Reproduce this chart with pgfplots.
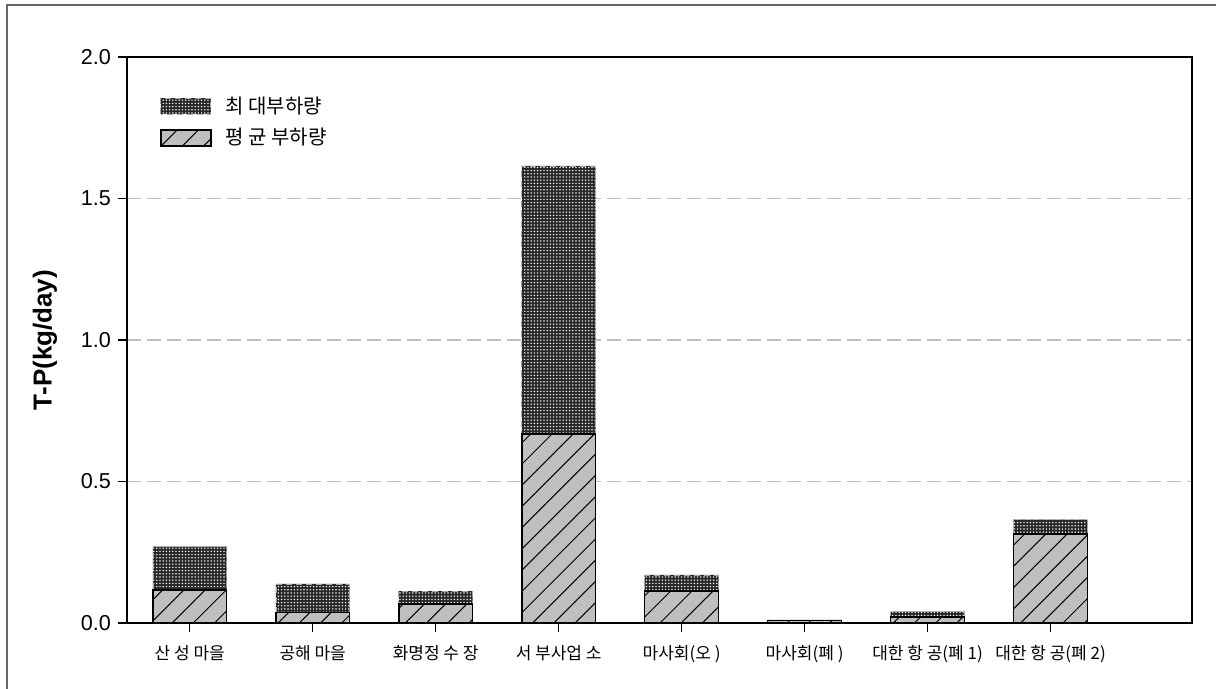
\documentclass[border=0pt]{standalone}
\usepackage{pgfplots}
\pgfplotsset{compat=1.18}
\usetikzlibrary{patterns.meta}
\usepackage{fontspec}
\setmainfont{Liberation Sans}
\newfontfamily\kr{Noto Sans CJK KR}

\begin{document}
\begin{tikzpicture}
\begin{axis}[
    scale only axis,
    width=532.5pt, height=283pt,
    xmin=-0.51, xmax=8.15,
    ymin=0, ymax=2,
    clip=false,
    axis line style={line width=0.75pt},
    xtick={0,1,2,3,4,5,6,7},
    xticklabels={산 성 마을, 공해 마을, 화명정 수 장, 서 부사업 소, 마사회(오 ), 마사회(폐 ), 대한 항 공(폐 1), 대한 항 공(폐 2)},
    ytick={0,0.5,1,1.5,2},
    xtick pos=bottom, ytick pos=left,
    tick align=outside,
    major tick length=4.5pt,
    tick style={black, line width=0.75pt},
    /pgf/number format/assume math mode=true,
    yticklabel style={font=\fontsize{10.8}{12}\selectfont,
        /pgf/number format/.cd, fixed, fixed zerofill, precision=1},
    xticklabel style={font=\kr\fontsize{8.5}{10}\selectfont, yshift=-3pt},
    ymajorgrids,
    major grid style={black!25, line width=0.6pt, dash pattern=on 7pt off 3pt},
    ylabel={T-P(kg/day)},
    ylabel style={font=\bfseries\fontsize{13}{15}\selectfont,
        at={(axis description cs:-0.077,0.5)}, anchor=center},
    legend style={draw=none, fill=none, at={(axis description cs:0.025,0.945)},
        anchor=north west, font=\kr\fontsize{10}{12}\selectfont, row sep=2pt,
        /tikz/column sep=5pt},
    legend cell align=left,
    legend image code/.code={\draw[#1] (0pt,-4pt) rectangle (25pt,4pt);},
]
% max load (behind)
\addplot[ybar, bar width=0.6, bar shift=0pt, fill=black!85,
    draw=black!35, densely dashed, line width=0.3pt,
    postaction={pattern={Dots[distance=1.6pt, radius=0.4pt]}, pattern color=white}]
coordinates {(0,0.27) (1,0.138) (2,0.113) (3,1.615) (4,0.17) (5,0.011) (6,0.04) (7,0.365)};
\addlegendentry{최 대부하량}
% mean load (front)
\addplot[ybar, bar width=0.6, bar shift=0pt, fill=black!25,
    draw=black, line width=0.75pt,
    postaction={pattern={Lines[angle=45, distance=7.5pt, line width=0.5pt]}, pattern color=black}]
coordinates {(0,0.117) (1,0.037) (2,0.067) (3,0.668) (4,0.113) (5,0.009) (6,0.021) (7,0.315)};
\addlegendentry{평 균 부하량}

\draw[black!60, line width=0.7pt] (rel axis cs:-0.1127,-0.3) -- (rel axis cs:-0.1127,1.0919) -- (rel axis cs:1.2,1.0919);
\coordinate (bl) at (rel axis cs:-0.11925,-0.11661);
\coordinate (tr) at (rel axis cs:1.02254,1.10071);
\end{axis}
\pgfresetboundingbox
\useasboundingbox (bl) rectangle (tr);
\end{tikzpicture}
\end{document}
